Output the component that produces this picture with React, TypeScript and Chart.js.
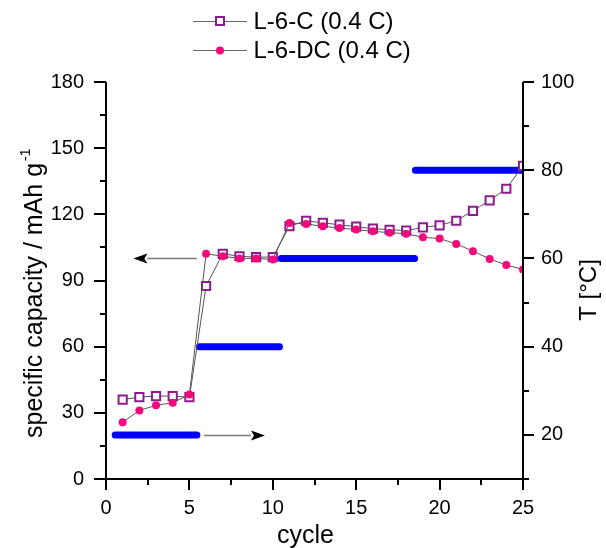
import React, { useEffect, useRef } from 'react';
import { Chart, registerables } from 'chart.js';

Chart.register(...registerables);

const FONT = "'Liberation Sans', Arial, sans-serif";

// ---- data ----
const cycles = [1, 2, 3, 4, 5, 6, 7, 8, 9, 10, 11, 12, 13, 14, 15, 16, 17, 18, 19, 20, 21, 22, 23, 24, 25];
const capacityC = [36.0, 37.1, 37.6, 37.6, 37.1, 87.5, 102.1, 101.0, 100.6, 100.6, 114.6, 117.1, 116.1, 115.3, 114.4, 113.5, 113.0, 112.6, 114.1, 115.0, 117.1, 121.6, 126.3, 131.6, 142.0];
const capacityDC = [25.7, 31.1, 33.4, 34.6, 38.3, 102.1, 101.0, 100.0, 100.0, 99.5, 116.1, 115.6, 114.6, 113.8, 113.1, 112.3, 111.7, 111.2, 109.6, 109.0, 106.6, 103.3, 99.8, 97.0, 95.0];
const seriesLabels = ['L-6-C (0.4 C)', 'L-6-DC (0.4 C)'];

// temperature steps (°C) over cycle ranges
const tempLevels = [20, 40, 60, 80];
const tempStart = [0.55, 5.6, 10.5, 18.55];
const tempEnd = [5.45, 10.4, 18.5, 25];

// arrows (data coordinates)
const arrowFromX = [5.44, 5.88];
const arrowToX = [1.64, 9.53];
const arrowY = [100, 20];
const arrowAxis = ['y', 'y1'];

// axis ticks
const xRange = [0, 25];
const yRange = [0, 180];
const y1Range = [10, 100];
const xMajor = 5, xMinor = 2.5;
const yMajor = 30, yMinor = 15;
const y1Major = 20, y1Minor = 10;

const xTitle = 'cycle';
const yTitle = 'specific capacity / mAh g';
const yTitleSup = '-1';
const y1Title = 'T [°C]';

const PURPLE = '#8e1c8e';
const PINK = '#f7087a';
const LINE = '#555555';
const BLUE = '#0000ff';

const frame = {
  id: 'frame',
  beforeDatasetsDraw(chart: any) {
    const ctx = chart.ctx;
    ctx.save();
    for (let i = 0; i < arrowFromX.length; i++) {
      const xs = chart.scales.x;
      const ys = chart.scales[arrowAxis[i]];
      const x0 = xs.getPixelForValue(arrowFromX[i]);
      const x1 = xs.getPixelForValue(arrowToX[i]);
      const y = Math.round(ys.getPixelForValue(arrowY[i])) + 0.5;
      const dir = Math.sign(x1 - x0);
      const headLen = 14, headHalf = 5;
      ctx.strokeStyle = '#7a7a7a';
      ctx.lineWidth = 1.5;
      ctx.beginPath();
      ctx.moveTo(x0, y);
      ctx.lineTo(x1 - dir * headLen, y);
      ctx.stroke();
      ctx.fillStyle = '#000';
      ctx.beginPath();
      ctx.moveTo(x1, y);
      ctx.lineTo(x1 - dir * headLen, y - headHalf);
      ctx.lineTo(x1 - dir * (headLen - 3), y);
      ctx.lineTo(x1 - dir * headLen, y + headHalf);
      ctx.closePath();
      ctx.fill();
    }
    ctx.restore();
  },
  afterDatasetsDraw(chart: any) {
    const ctx = chart.ctx;
    const { left, right, top, bottom } = chart.chartArea;
    const xs = chart.scales.x, ys = chart.scales.y, y1s = chart.scales.y1;
    ctx.save();
    ctx.strokeStyle = '#000';
    ctx.lineWidth = 2;
    ctx.lineCap = 'butt';
    ctx.beginPath();
    // axis lines
    ctx.moveTo(left, top); ctx.lineTo(left, bottom + 1);
    ctx.moveTo(right, top); ctx.lineTo(right, bottom + 1);
    ctx.moveTo(left - 1, bottom); ctx.lineTo(right + 1, bottom);
    // left ticks
    for (let v = yRange[0]; v <= yRange[1] + 1e-6; v += yMinor) {
      const p = Math.round(ys.getPixelForValue(v));
      const len = Math.abs(v % yMajor) < 1e-6 ? 12 : 6;
      ctx.moveTo(left - len, p); ctx.lineTo(left, p);
    }
    // right ticks
    for (let v = y1Range[0]; v <= y1Range[1] + 1e-6; v += y1Minor) {
      const p = Math.round(y1s.getPixelForValue(v));
      const len = Math.abs(v % y1Major) < 1e-6 ? 11 : 6;
      ctx.moveTo(right, p); ctx.lineTo(right + len, p);
    }
    // bottom ticks
    for (let v = xRange[0]; v <= xRange[1] + 1e-6; v += xMinor) {
      const p = Math.round(xs.getPixelForValue(v));
      const len = Math.abs(v % xMajor) < 1e-6 ? 11 : 6;
      ctx.moveTo(p, bottom); ctx.lineTo(p, bottom + len);
    }
    ctx.stroke();

    // titles
    ctx.fillStyle = '#000';
    ctx.font = `25px ${FONT}`;
    ctx.textAlign = 'center';
    ctx.textBaseline = 'alphabetic';
    ctx.fillText(xTitle, (left + right) / 2 - 9, 543);

    // left title with superscript
    ctx.save();
    ctx.translate(42, 438);
    ctx.rotate(-Math.PI / 2);
    ctx.textAlign = 'left';
    ctx.font = `25px ${FONT}`;
    const w = ctx.measureText(yTitle).width;
    ctx.fillText(yTitle, 0, 0);
    ctx.font = `14px ${FONT}`;
    ctx.fillText(yTitleSup, w + 2, -12);
    ctx.restore();

    // right title
    ctx.save();
    ctx.translate(596, 290);
    ctx.rotate(-Math.PI / 2);
    ctx.textAlign = 'center';
    ctx.font = `24px ${FONT}`;
    ctx.fillText(y1Title, 0, 0);
    ctx.restore();

    // legend
    const rows = [21, 50];
    for (let i = 0; i < 2; i++) {
      const y = rows[i];
      ctx.strokeStyle = '#666';
      ctx.lineWidth = 1;
      ctx.beginPath();
      ctx.moveTo(193, y + 0.5); ctx.lineTo(247, y + 0.5);
      ctx.stroke();
      if (i === 0) {
        ctx.fillStyle = '#fff';
        ctx.fillRect(216, y - 4, 8, 8);
        ctx.strokeStyle = PURPLE;
        ctx.lineWidth = 2;
        ctx.strokeRect(216, y - 4, 8, 8);
      } else {
        ctx.fillStyle = PINK;
        ctx.beginPath();
        ctx.arc(220, y + 0.5, 4, 0, Math.PI * 2);
        ctx.fill();
      }
      ctx.fillStyle = '#000';
      ctx.font = `24px ${FONT}`;
      ctx.textAlign = 'left';
      ctx.textBaseline = 'middle';
      ctx.fillText(seriesLabels[i], 253.5, y + 1);
    }
    ctx.restore();
  },
};

export default function App() {
  const ref = useRef<HTMLCanvasElement | null>(null);
  useEffect(() => {
    if (!ref.current) return;
    const tempData: any[] = [];
    tempLevels.forEach((t, i) => {
      tempData.push({ x: tempStart[i], y: t });
      tempData.push({ x: tempEnd[i], y: t });
      tempData.push({ x: tempEnd[i], y: null });
    });
    const tickFont = { family: FONT, size: 20 };
    const chart = new Chart(ref.current, {
      type: 'line',
      data: {
        datasets: [
          {
            label: seriesLabels[0],
            data: cycles.map((c, i) => ({ x: c, y: capacityC[i] })),
            yAxisID: 'y',
            borderColor: LINE,
            borderWidth: 1,
            tension: 0,
            pointStyle: 'rect',
            pointRadius: 5.8,
            pointBorderWidth: 2,
            pointBorderColor: PURPLE,
            pointBackgroundColor: '#ffffff',
            order: 2,
            clip: 0,
          } as any,
          {
            label: seriesLabels[1],
            data: cycles.map((c, i) => ({ x: c, y: capacityDC[i] })),
            yAxisID: 'y',
            borderColor: LINE,
            borderWidth: 1,
            tension: 0,
            pointStyle: 'circle',
            pointRadius: 4,
            pointBorderWidth: 0,
            pointBorderColor: PINK,
            pointBackgroundColor: PINK,
            order: 1,
            clip: 0,
          } as any,
          {
            label: 'T',
            data: tempData,
            yAxisID: 'y1',
            borderColor: BLUE,
            borderWidth: 7,
            borderCapStyle: 'round',
            pointRadius: 0,
            spanGaps: false,
            order: 3,
            clip: 0,
          } as any,
        ],
      },
      options: {
        animation: false,
        responsive: false,
        layout: { padding: { top: 82, left: 0, right: 0, bottom: 0 } },
        plugins: { legend: { display: false }, tooltip: { enabled: false } },
        scales: {
          x: {
            type: 'linear',
            min: xRange[0],
            max: xRange[1],
            ticks: { stepSize: xMajor, padding: 17, font: tickFont, color: '#000' },
            grid: { display: false, drawTicks: false },
            border: { display: false },
            afterFit: (s: any) => { s.height = 69; },
          },
          y: {
            position: 'left',
            min: yRange[0],
            max: yRange[1],
            ticks: { stepSize: yMajor, padding: 22, font: tickFont, color: '#000' },
            grid: { display: false, drawTicks: false },
            border: { display: false },
            afterFit: (s: any) => { s.width = 106; },
          },
          y1: {
            position: 'right',
            min: y1Range[0],
            max: y1Range[1],
            ticks: {
              stepSize: y1Minor,
              padding: 18,
              font: tickFont,
              color: '#000',
              callback: (v: any) => (Math.abs(v % y1Major) < 1e-6 ? String(v) : ''),
            },
            grid: { display: false, drawTicks: false },
            border: { display: false },
            afterFit: (s: any) => { s.width = 83; },
          },
        } as any,
      },
      plugins: [frame],
    });
    return () => chart.destroy();
  }, []);
  return (
    <div style={{ position: 'absolute', left: 0, top: 0, width: 606, height: 548, background: '#fff' }}>
      <canvas ref={ref} width={606} height={548} style={{ display: 'block' }} />
    </div>
  );
}
